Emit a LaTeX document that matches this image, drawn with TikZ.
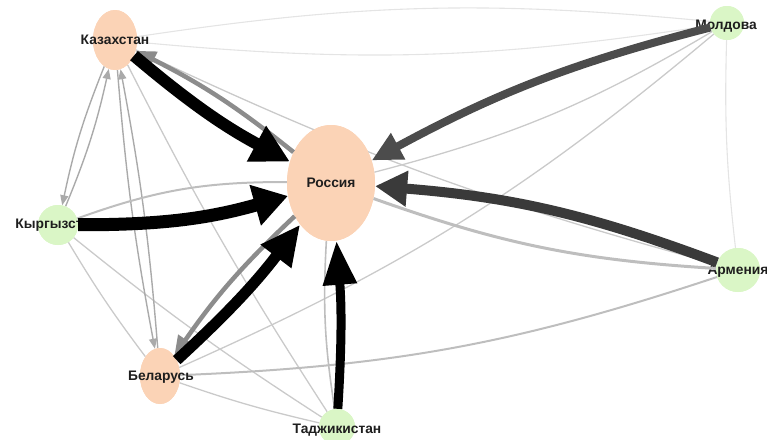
\documentclass[tikz,border=0pt]{standalone}
\usepackage{fontspec}
\setmainfont{Liberation Sans}
\usetikzlibrary{arrows.meta,shapes.geometric}
\definecolor{peach}{RGB}{251,211,182}
\definecolor{lgreen}{RGB}{218,246,198}
\definecolor{txt}{RGB}{30,30,30}
\definecolor{dkA}{RGB}{58,58,58}
\definecolor{dkM}{RGB}{76,76,76}
\definecolor{midg}{RGB}{140,140,140}
\definecolor{lightg}{RGB}{190,190,190}
\definecolor{thing}{RGB}{170,170,170}
\definecolor{faintg}{RGB}{202,202,202}
\definecolor{vfaint}{RGB}{228,228,228}
\begin{document}
\begin{tikzpicture}[x=1pt,y=-1pt,
  pnode/.style={ellipse, fill=peach, inner sep=0pt},
  gnode/.style={circle, fill=lgreen, inner sep=0pt},
  lbl/.style={font=\fontsize{13.8}{16}\selectfont\bfseries, text=txt, inner sep=0pt},
  thinarrow/.style={draw=thing, line width=1.4pt, -{Triangle[length=10pt,width=8pt]}},
  faintline/.style={draw=faintg, line width=1.3pt},
  vfaintline/.style={draw=vfaint, line width=1.1pt},
  grayarrow/.style={draw=midg, line width=4.5pt, -{Triangle[length=20pt,width=17pt]}},
  heavy/.style={draw=black, -{Triangle[length=#1pt,width=38pt]}}
]
\useasboundingbox (0,0) rectangle (767,439);

% node shapes (coordinates for edges)
\path (115,40) node[pnode, minimum width=44pt, minimum height=60pt] (K) {};
\path (331,183) node[pnode, minimum width=88pt, minimum height=116pt] (R) {};
\path (58,225) node[gnode, minimum size=40pt] (Kg) {};
\path (727,23) node[gnode, minimum size=34pt] (M) {};
\path (738,270) node[gnode, minimum size=44pt] (A) {};
\path (160,376) node[pnode, minimum width=40pt, minimum height=56pt] (B) {};
\path (337,427) node[gnode, minimum size=36pt] (T) {};

% light edges (beneath nodes)
\draw[vfaintline] (K) to[bend right=7] (M);
\draw[vfaintline] (M) to[bend right=7] (K);
\draw[vfaintline] (M) to[bend right=4] (A);
\draw[faintline] (K) to[bend right=5] (A);
\draw[faintline] (K) to[bend right=3] (T);
\draw[faintline] (Kg) to[bend right=3] (B);
\draw[faintline] (Kg) to[bend right=3] (T);
\draw[faintline] (B) to[bend right=3] (T);
\draw[faintline] (B) to[bend right=8] (M);
\draw[faintline] (R) to[bend right=8] (M);
\draw[draw=lightg, line width=1.6pt] (R) to[bend right=6] (T);
\draw[draw=lightg, line width=2pt] (B) to[bend right=8] (A);
\draw[thinarrow] (K) to[bend right=5] (Kg);
\draw[thinarrow] (Kg) to[bend right=5] (K);
\draw[thinarrow] (K) to[bend right=3] (B);
\draw[thinarrow] (B) to[bend right=3] (K);

% redraw node fills on top of light edges
\path (115,40) node[pnode, minimum width=44pt, minimum height=60pt] {};
\path (331,183) node[pnode, minimum width=88pt, minimum height=116pt] {};
\path (58,225) node[gnode, minimum size=40pt] {};
\path (727,23) node[gnode, minimum size=34pt] {};
\path (738,270) node[gnode, minimum size=44pt] {};
\path (160,376) node[pnode, minimum width=40pt, minimum height=56pt] {};
\path (337,427) node[gnode, minimum size=36pt] {};

% labels
\node[lbl] (Kt) at (115,40) {Казахстан};
\node[lbl] (Rt) at (331,183) {Россия};
\node[lbl] (Kgt) at (57,225) {Кыргызстан};
\node[lbl] (Mt) at (726,26) {Молдова};
\node[lbl] (At) at (738,271) {Армения};
\node[lbl] (Bt) at (161,377) {Беларусь};
\node[lbl] (Tt) at (337,430) {Таджикистан};

% medium edges
\draw[draw=lightg, line width=3pt] (R) to[bend right=8] (A);
\draw[draw=lightg, line width=2pt] (R) to[bend right=10] (Kg);
\draw[grayarrow] (R) to[bend right=6] (K);
\draw[grayarrow] (R) to[bend right=6] (B);

% heavy edges
\draw[heavy=38, line width=12pt] (K) to[bend right=6] (R);
\draw[draw=black, line width=13pt, -{Triangle[length=34pt,width=40pt]}] (Kg) to[bend right=8] (R);
\draw[draw=black, line width=11pt, -{Triangle[length=40pt,width=36pt]}] (B) to[bend right=5] (R);
\draw[draw=black, line width=9pt, -{Triangle[length=44pt,width=32pt]}] (T) to[bend right=4] (R);
\draw[draw=dkM, line width=8pt, -{Triangle[length=30pt,width=28pt]}] (M) to[bend right=7] (R);
\draw[draw=dkA, line width=10pt, -{Triangle[length=32pt,width=34pt]}] (A) to[bend right=8] (R);
\end{tikzpicture}
\end{document}
